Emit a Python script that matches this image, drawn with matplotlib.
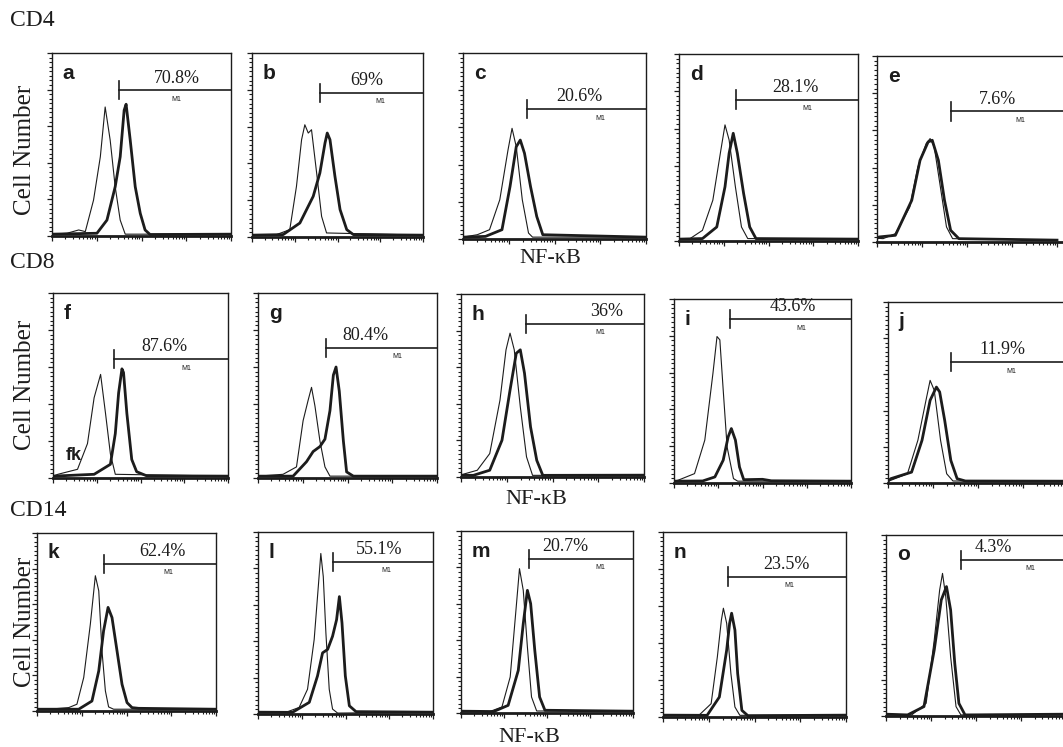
import numpy as np
import matplotlib.pyplot as plt
from matplotlib.ticker import FixedLocator, NullFormatter

# panel letters, rows of the figure and M1 gate percentages
letters = list("abcdefghijklmno")
row_names = ["CD4", "CD8", "CD14"]
pct = ["70.8%", "69%", "20.6%", "28.1%", "7.6%",
       "87.6%", "80.4%", "36%", "43.6%", "11.9%",
       "62.4%", "55.1%", "20.7%", "23.5%", "4.3%"]
# M1 gate start on NF-kB axis (fraction of the 4 log decades)
gate_start = [0.372, 0.397, 0.351, 0.320, 0.409,
              0.347, 0.379, 0.353, 0.319, 0.349,
              0.372, 0.426, 0.393, 0.357, 0.416]

# histograms: (NF-kB fraction, relative cell number)
# thin line = control, thick line = stained
ctrl_a = [(0, .01), (.084, .015), (.149, .033), (.186, .024), (.232, .196), (.270, .433), (.297, .705), (.325, .524), (.353, .269), (.381, .087), (.409, .01), (1, .01)]
stim_a = [(0, .01), (.251, .015), (.307, .087), (.353, .269), (.381, .433), (.403, .687), (.414, .72), (.437, .524), (.465, .269), (.493, .124), (.520, .033), (.548, .008), (1, .01)]
ctrl_b = [(0, .01), (.143, .013), (.221, .04), (.260, .275), (.290, .529), (.309, .61), (.329, .565), (.348, .583), (.378, .348), (.407, .112), (.436, .022), (1, .01)]
stim_b = [(0, .01), (.182, .013), (.280, .076), (.358, .221), (.397, .348), (.427, .511), (.440, .565), (.456, .529), (.485, .33), (.515, .149), (.554, .04), (.593, .013), (1, .01)]
ctrl_c = [(0, .01), (.078, .023), (.145, .05), (.201, .211), (.246, .479), (.268, .595), (.291, .496), (.324, .211), (.358, .032), (.38, .01), (1, .01)]
stim_c = [(0, .01), (.123, .014), (.213, .05), (.257, .282), (.291, .496), (.313, .532), (.336, .461), (.369, .282), (.403, .121), (.436, .023), (1, .01)]
ctrl_d = [(0, .01), (.062, .013), (.131, .057), (.189, .218), (.234, .487), (.257, .621), (.280, .54), (.315, .29), (.349, .075), (.384, .013), (1, .01)]
stim_d = [(0, .01), (.131, .013), (.211, .075), (.257, .29), (.280, .469), (.303, .576), (.326, .469), (.361, .254), (.395, .075), (.43, .013), (1, .01)]
ctrl_e = [(0, .02), (.034, .018), (.102, .045), (.182, .188), (.227, .403), (.273, .529), (.295, .556), (.318, .511), (.352, .296), (.386, .081), (.42, .018), (1, .01)]
stim_e = [(0, .02), (.011, .027), (.102, .036), (.193, .224), (.239, .439), (.284, .538), (.307, .547), (.341, .439), (.375, .224), (.409, .063), (.455, .018), (1, .01)]
ctrl_f = [(0, .01), (.028, .02), (.14, .047), (.197, .186), (.235, .434), (.272, .56), (.30, .35), (.328, .13), (.356, .02), (1, .01)]
stim_f = [(0, .01), (.235, .02), (.328, .074), (.356, .24), (.375, .46), (.394, .59), (.403, .57), (.422, .35), (.45, .10), (.478, .034), (.535, .012), (1, .01)]
ctrl_g = [(0, .01), (.14, .02), (.215, .06), (.252, .31), (.28, .42), (.299, .49), (.318, .39), (.346, .20), (.374, .06), (.402, .01), (1, .01)]
stim_g = [(0, .01), (.196, .01), (.271, .088), (.308, .143), (.346, .17), (.374, .21), (.402, .364), (.421, .556), (.436, .60), (.454, .47), (.477, .2), (.495, .033), (.533, .01), (1, .01)]
ctrl_h = [(0, .01), (.022, .018), (.089, .037), (.157, .128), (.213, .42), (.246, .695), (.268, .786), (.291, .695), (.324, .384), (.358, .11), (.391, .009), (1, .01)]
stim_h = [(0, .01), (.067, .009), (.157, .037), (.224, .201), (.268, .475), (.302, .676), (.324, .695), (.347, .567), (.38, .274), (.414, .091), (.447, .009), (1, .01)]
ctrl_i = [(0, .01), (.023, .015), (.116, .051), (.174, .233), (.22, .596), (.243, .796), (.259, .778), (.278, .505), (.30, .196), (.336, .024), (.36, .01), (1, .01)]
stim_i = [(0, .01), (.162, .011), (.231, .033), (.278, .124), (.306, .251), (.324, .296), (.347, .233), (.37, .087), (.394, .018), (.5, .02), (.55, .012), (1, .01)]
ctrl_j = [(0, .01), (.016, .015), (.108, .051), (.166, .236), (.211, .457), (.234, .567), (.257, .512), (.292, .236), (.326, .051), (.361, .011), (1, .01)]
stim_j = [(0, .01), (.016, .024), (.131, .06), (.189, .236), (.234, .457), (.269, .53), (.287, .503), (.315, .346), (.349, .125), (.384, .024), (.43, .011), (1, .01)]
ctrl_k = [(0, .01), (.065, .01), (.177, .019), (.223, .038), (.261, .188), (.298, .488), (.326, .76), (.345, .675), (.363, .338), (.382, .113), (.40, .023), (.428, .01), (1, .01)]
stim_k = [(0, .01), (.233, .01), (.307, .056), (.345, .225), (.372, .45), (.397, .582), (.419, .525), (.447, .338), (.475, .15), (.503, .047), (.531, .019), (.568, .015), (1, .01)]
ctrl_l = [(0, .01), (.159, .009), (.235, .036), (.283, .136), (.321, .409), (.346, .718), (.359, .882), (.373, .755), (.388, .445), (.407, .136), (.426, .027), (.455, .005), (1, .01)]
stim_l = [(0, .01), (.197, .009), (.293, .064), (.34, .209), (.369, .336), (.398, .355), (.426, .427), (.449, .518), (.465, .645), (.48, .50), (.499, .209), (.522, .045), (.56, .013), (1, .01)]
ctrl_m = [(0, .01), (.167, .008), (.238, .033), (.286, .198), (.321, .582), (.34, .793), (.362, .674), (.386, .363), (.41, .088), (.44, .011), (1, .01)]
stim_m = [(0, .01), (.19, .008), (.274, .042), (.333, .234), (.362, .491), (.386, .674), (.405, .601), (.429, .344), (.457, .088), (.488, .015), (1, .01)]
ctrl_n = [(0, .01), (.196, .009), (.263, .072), (.297, .325), (.319, .524), (.33, .588), (.348, .506), (.371, .235), (.393, .054), (.42, .009), (1, .01)]
stim_n = [(0, .01), (.241, .009), (.308, .108), (.348, .362), (.364, .506), (.375, .561), (.393, .47), (.408, .235), (.431, .036), (.464, .007), (1, .01)]
ctrl_o = [(0, .01), (.143, .006), (.223, .07), (.268, .42), (.298, .696), (.314, .788), (.332, .659), (.359, .328), (.389, .052), (.416, .006), (1, .01)]
stim_o = [(0, .01), (.12, .006), (.211, .052), (.268, .365), (.307, .641), (.336, .715), (.359, .586), (.382, .291), (.405, .07), (.439, .006), (1, .01)]

ctrl = [ctrl_a, ctrl_b, ctrl_c, ctrl_d, ctrl_e, ctrl_f, ctrl_g, ctrl_h,
        ctrl_i, ctrl_j, ctrl_k, ctrl_l, ctrl_m, ctrl_n, ctrl_o]
stim = [stim_a, stim_b, stim_c, stim_d, stim_e, stim_f, stim_g, stim_h,
        stim_i, stim_j, stim_k, stim_l, stim_m, stim_n, stim_o]

# layout (pixels: left, top, right, bottom); the right column runs off the page,
# "span" is the pixel width of the 4 decades in each panel
W, H = 1063, 747
boxes = [(52, 53, 231, 236), (252, 53, 423, 237), (463, 53, 646, 239), (679, 54, 858, 241), (877, 56, 1070, 242),
         (53, 293, 228, 478), (258, 293, 437, 478), (461, 294, 644, 477), (674, 299, 851, 483), (888, 302, 1070, 483),
         (37, 533, 216, 711), (258, 532, 433, 714), (461, 531, 633, 713), (663, 532, 846, 717), (886, 535, 1070, 716)]
span = [179, 171, 183, 179, 180, 175, 179, 183, 177, 180, 179, 175, 172, 183, 180]
gate_y = [0.796, 0.783, 0.698, 0.755, 0.703, 0.643, 0.703, 0.837, 0.891, 0.668,
          0.826, 0.836, 0.848, 0.759, 0.862]
pct_x = [0.697, 0.671, 0.638, 0.648, 0.67, 0.638, 0.598, 0.794, 0.671, 0.637,
         0.698, 0.694, 0.607, 0.676, 0.598]
m1_x = [0.697, 0.75, 0.749, 0.717, 0.795, 0.76, 0.776, 0.76, 0.718, 0.683,
        0.736, 0.732, 0.81, 0.688, 0.802]

serif = "Liberation Serif"
sans = "Liberation Sans"
ink = "#1c1c1c"

fig = plt.figure(figsize=(W / 100, H / 100), dpi=100)
fig.patch.set_facecolor("white")

minor_x = [(d + np.log10(m)) / 4 for d in range(4) for m in range(2, 10)]

for i, (l, t, r, b) in enumerate(boxes):
    ax = fig.add_axes([l / W, 1 - b / H, (r - l) / W, (b - t) / H])
    xmax = (r - l) / span[i]
    ax.set_xlim(0, xmax)
    ax.set_ylim(0, 1)
    for s in ax.spines.values():
        s.set_linewidth(1.0)
        s.set_color(ink)
    ax.spines["bottom"].set_linewidth(2.0)
    ax.xaxis.set_major_locator(FixedLocator([0, 0.25, 0.5, 0.75, 1]))
    ax.xaxis.set_minor_locator(FixedLocator(minor_x))
    ax.yaxis.set_major_locator(FixedLocator(np.arange(0, 1.01, 0.2)))
    ax.yaxis.set_minor_locator(FixedLocator(np.arange(0, 1.0, 0.025)))
    ax.xaxis.set_major_formatter(NullFormatter())
    ax.yaxis.set_major_formatter(NullFormatter())
    ax.tick_params(which="major", direction="out", length=3.5, width=0.9, color=ink)
    ax.tick_params(which="minor", direction="out", length=2, width=0.8, color=ink)

    cx, cy = zip(*ctrl[i])
    sx, sy = zip(*stim[i])
    ax.plot(cx, cy, color=ink, lw=0.8, solid_joinstyle="round")
    ax.plot(sx, sy, color=ink, lw=2.0, solid_joinstyle="round")

    # M1 gate
    g, gy = gate_start[i], gate_y[i]
    ax.plot([g, xmax], [gy, gy], color=ink, lw=1.2, clip_on=False)
    ax.plot([g, g], [gy - 0.05, gy + 0.05], color=ink, lw=1.2)
    ax.text(pct_x[i], gy + 0.02, pct[i], ha="center", va="bottom",
            fontsize=13, family=serif, color=ink)
    ax.text(m1_x[i], gy - 0.03, "M1", ha="center", va="top",
            fontsize=5, family=sans, color=ink)
    ax.text(0.06, 0.89, letters[i], ha="left", va="center",
            fontsize=15, family=sans, weight="bold", color=ink)

# stray "fk" label inside panel f
fig.axes[5].text(0.07, 0.12, "fk", ha="left", va="center", fontsize=13,
                 family=sans, weight="bold", color=ink)

for name, y in zip(row_names, [20, 263, 511]):
    fig.text(10 / W, 1 - y / H, name, ha="left", va="center",
             fontsize=17, family=serif, color=ink)
for y in [150, 385, 622]:
    fig.text(25 / W, 1 - y / H, "Cell Number", ha="center", va="center",
             rotation=90, fontsize=18, family=serif, color=ink)
for x, y in [(550, 258), (536, 500), (529, 737)]:
    fig.text(x / W, 1 - y / H, "NF-\u03baB", ha="center", va="center",
             fontsize=16, family=serif, color=ink)

fig.savefig("out.png", dpi=100, facecolor="white")
